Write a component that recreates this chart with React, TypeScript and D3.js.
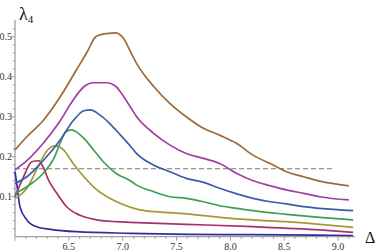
import * as d3 from "d3";
import { useEffect, useRef } from "react";

// curves, low to high (delta values and lambda4 values)
const indigoD = [6.0, 6.02, 6.046, 6.11, 6.2, 6.33, 6.57, 7.07, 7.6, 8.2, 8.8, 9.14];
const indigoL = [0.1625, 0.125, 0.075, 0.042, 0.025, 0.0185, 0.0125, 0.0085, 0.006, 0.005, 0.004, 0.003];

const crimsonD = [6.0, 6.08, 6.155, 6.22, 6.26, 6.31, 6.39, 6.48, 6.6, 6.76, 6.94, 7.07, 7.59, 8.21, 8.83, 9.14];
const crimsonL = [0.1, 0.15, 0.1875, 0.19, 0.175, 0.142, 0.108, 0.075, 0.054, 0.042, 0.0375, 0.036, 0.031, 0.025, 0.017, 0.011];

const oliveD = [6.0, 6.11, 6.2, 6.29, 6.37, 6.45, 6.54, 6.64, 6.76, 6.88, 6.98, 7.13, 7.29, 7.44, 7.59, 7.9, 8.21, 8.52, 8.83, 9.14];
const oliveL = [0.096, 0.121, 0.167, 0.2125, 0.227, 0.217, 0.183, 0.15, 0.117, 0.096, 0.083, 0.069, 0.0625, 0.06, 0.057, 0.0485, 0.042, 0.0375, 0.031, 0.0235];

const greenD = [6.0, 6.11, 6.26, 6.36, 6.42, 6.47, 6.52, 6.56, 6.64, 6.73, 6.82, 6.94, 7.07, 7.13, 7.29, 7.44, 7.59, 7.75, 7.9, 8.06, 8.21, 8.52, 8.83, 9.14];
const greenL = [0.108, 0.125, 0.158, 0.195, 0.235, 0.262, 0.267, 0.264, 0.246, 0.217, 0.1875, 0.158, 0.14, 0.129, 0.1125, 0.1, 0.096, 0.0875, 0.0775, 0.071, 0.065, 0.056, 0.0485, 0.042];

const blueD = [6.0, 6.11, 6.26, 6.42, 6.54, 6.64, 6.7, 6.79, 6.88, 6.98, 7.07, 7.13, 7.29, 7.44, 7.59, 7.75, 7.9, 8.06, 8.21, 8.37, 8.52, 8.68, 8.83, 9.14];
const blueL = [0.133, 0.15, 0.19, 0.242, 0.29, 0.315, 0.317, 0.304, 0.283, 0.254, 0.227, 0.208, 0.179, 0.1625, 0.146, 0.136, 0.121, 0.107, 0.096, 0.0875, 0.082, 0.075, 0.071, 0.065];

const purpleD = [6.0, 6.11, 6.26, 6.42, 6.54, 6.64, 6.73, 6.85, 6.94, 6.98, 7.07, 7.13, 7.29, 7.44, 7.59, 7.75, 7.9, 8.06, 8.21, 8.37, 8.52, 8.68, 8.83, 9.1];
const purpleL = [0.167, 0.19, 0.233, 0.29, 0.342, 0.375, 0.385, 0.385, 0.375, 0.362, 0.325, 0.3, 0.258, 0.229, 0.208, 0.196, 0.183, 0.158, 0.14, 0.1275, 0.117, 0.1085, 0.1, 0.092];

const brownD = [6.0, 6.11, 6.26, 6.42, 6.57, 6.67, 6.75, 6.85, 6.94, 6.98, 7.01, 7.05, 7.13, 7.29, 7.44, 7.59, 7.75, 7.9, 8.06, 8.21, 8.37, 8.52, 8.68, 8.83, 9.1];
const brownL = [0.217, 0.25, 0.29, 0.35, 0.417, 0.462, 0.5, 0.508, 0.51, 0.504, 0.495, 0.475, 0.433, 0.375, 0.333, 0.3, 0.271, 0.254, 0.233, 0.204, 0.183, 0.1625, 0.15, 0.139, 0.127];

const series = [
  { name: "indigo", d: indigoD, l: indigoL, color: "#2e2ea0" },
  { name: "crimson", d: crimsonD, l: crimsonL, color: "#a8306f" },
  { name: "olive", d: oliveD, l: oliveL, color: "#a69836" },
  { name: "green", d: greenD, l: greenL, color: "#3c9f52" },
  { name: "blue", d: blueD, l: blueL, color: "#3c5ca6" },
  { name: "purple", d: purpleD, l: purpleL, color: "#a23ea3" },
  { name: "brown", d: brownD, l: brownL, color: "#9d6b3a" },
];

// threshold and axis ticks
const thresholdL = 0.17;
const thresholdD = [6.0, 8.955];
const xTicks = [6.5, 7.0, 7.5, 8.0, 8.5, 9.0];
const yTicks = [0.1, 0.2, 0.3, 0.4, 0.5];

export default function App() {
  const ref = useRef<SVGSVGElement>(null);

  useEffect(() => {
    const svg = d3.select(ref.current);
    svg.selectAll("*").remove();

    const x = d3.scaleLinear().domain([6, 9.157]).range([15, 355]);
    const y = d3.scaleLinear().domain([0, 0.542]).range([236.7, 20]);

    const font = "Liberation Serif";
    const axisColor = "#8a8a8a";

    // axes lines
    svg.append("line")
      .attr("x1", x(6)).attr("x2", x(9.157))
      .attr("y1", y(0)).attr("y2", y(0))
      .attr("stroke", axisColor).attr("stroke-width", 1);
    svg.append("line")
      .attr("x1", x(6)).attr("x2", x(6))
      .attr("y1", y(0)).attr("y2", y(0.542))
      .attr("stroke", axisColor).attr("stroke-width", 1);

    // x ticks, minor every 0.1
    const xMinor = d3.range(60, 92).map((v) => v / 10);
    svg.append("g").selectAll("line")
      .data(xMinor)
      .enter().append("line")
      .attr("x1", (d) => x(d)).attr("x2", (d) => x(d))
      .attr("y1", y(0))
      .attr("y2", (d) => y(0) + (Math.abs(d * 2 - Math.round(d * 2)) < 1e-6 ? 4 : 2.2))
      .attr("stroke", axisColor).attr("stroke-width", 0.8);

    svg.append("g").selectAll("text")
      .data(xTicks)
      .enter().append("text")
      .attr("x", (d) => x(d))
      .attr("y", y(0) + 13)
      .attr("text-anchor", "middle")
      .style("font-family", font)
      .attr("font-size", 10)
      .attr("fill", "#333")
      .text((d) => d.toFixed(1));

    // y ticks, minor every 0.02
    const yMinor = d3.range(1, 27).map((v) => v / 50);
    svg.append("g").selectAll("line")
      .data(yMinor)
      .enter().append("line")
      .attr("x1", x(6))
      .attr("x2", (d) => x(6) - (Math.abs(d * 10 - Math.round(d * 10)) < 1e-6 ? 4 : 2.2))
      .attr("y1", (d) => y(d)).attr("y2", (d) => y(d))
      .attr("stroke", axisColor).attr("stroke-width", 0.8);

    svg.append("g").selectAll("text")
      .data(yTicks)
      .enter().append("text")
      .attr("x", 12)
      .attr("y", (d) => y(d) + 3.4)
      .attr("text-anchor", "end")
      .style("font-family", font)
      .attr("font-size", 10)
      .attr("fill", "#333")
      .text((d) => d.toFixed(1));

    // dashed threshold
    svg.append("line")
      .attr("x1", x(thresholdD[0])).attr("x2", x(thresholdD[1]))
      .attr("y1", y(thresholdL)).attr("y2", y(thresholdL))
      .attr("stroke", "#7a7a7a")
      .attr("stroke-width", 1.1)
      .attr("stroke-dasharray", "5,3");

    // curves
    const line = d3.line<[number, number]>()
      .x((p) => x(p[0]))
      .y((p) => y(p[1]))
      .curve(d3.curveMonotoneX);

    series.forEach((s) => {
      const pts = s.d.map((v, i) => [v, s.l[i]] as [number, number]);
      svg.append("path")
        .datum(pts)
        .attr("fill", "none")
        .attr("stroke", s.color)
        .attr("stroke-width", 1.7)
        .attr("stroke-linejoin", "round")
        .attr("d", line);
    });

    // axis labels
    const lam = svg.append("text")
      .attr("x", 19).attr("y", 20)
      .style("font-family", font)
      .attr("font-size", 18)
      .attr("fill", "#111");
    lam.append("tspan").text("λ");
    lam.append("tspan").attr("font-size", 11).attr("dy", 3).text("4");

    svg.append("text")
      .attr("x", 365).attr("y", 243)
      .style("font-family", font)
      .attr("font-size", 16)
      .attr("fill", "#111")
      .text("Δ");
  }, []);

  return (
    <svg
      ref={ref}
      width={382}
      height={251}
      style={{ position: "absolute", left: 0, top: 0, background: "#fff" }}
    />
  );
}
